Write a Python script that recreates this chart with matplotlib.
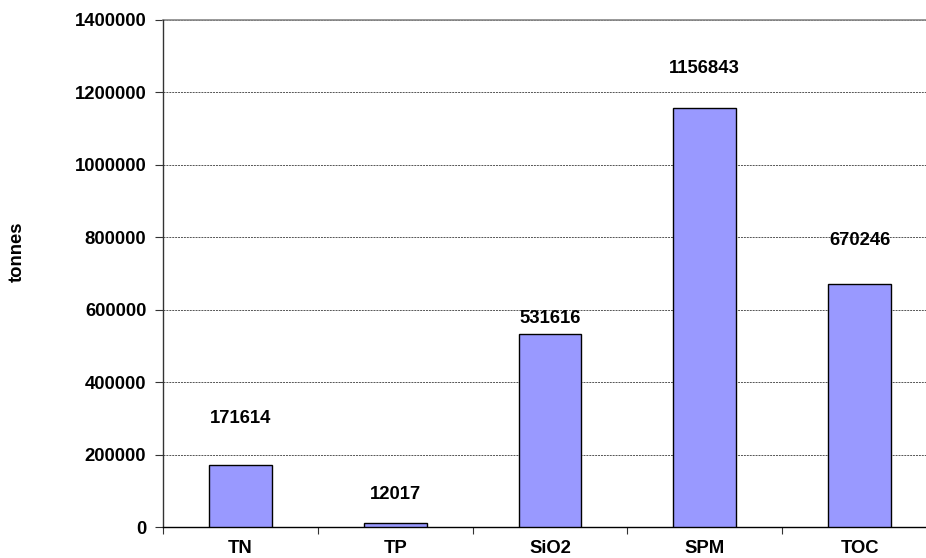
import matplotlib
matplotlib.use("Agg")
import matplotlib.pyplot as plt
import numpy as np

categories = ["TN", "TP", "SiO2", "SPM", "TOC"]
values = [171614, 12017, 531616, 1156843, 670246]
yticks = [0, 200000, 400000, 600000, 800000, 1000000, 1200000, 1400000]
# label offsets above bar tops (pixels) as placed in the original
label_offsets_px = [46, 28, 15.5, 40, 44]

plt.rcParams['font.family'] = ['Liberation Sans', 'DejaVu Sans']
plt.rcParams['font.weight'] = 'bold'

W, H, DPI = 926, 558, 100
fig = plt.figure(figsize=(W / DPI, H / DPI), dpi=DPI)
ax = fig.add_axes([163 / W, (H - 527) / H, (937 - 163) / W, (527 - 20) / H])

x = np.arange(len(categories))
ax.bar(x, values, width=0.406, color='#9999FF', edgecolor='black', linewidth=1.0, zorder=3)

ax.set_xlim(-0.5, len(categories) - 0.5)
ax.set_ylim(0, 1400000)
ax.set_yticks(yticks)
ax.set_yticklabels([str(v) for v in yticks], fontsize=13.3, fontweight='bold')

ax.set_xticks(np.arange(-0.5, len(categories), 1.0))
ax.set_xticklabels([])
ax.set_xticks(x, minor=True)
ax.set_xticklabels(categories, minor=True, fontsize=13.3, fontweight='bold')
ax.tick_params(axis='x', which='minor', length=0, pad=9.5)
ax.tick_params(axis='x', which='major', length=5, width=0.8, direction='out', color='#333333')
ax.tick_params(axis='y', which='major', length=6, width=0.8, direction='out', pad=6, color='#333333')

ax.yaxis.grid(True, linestyle=(0, (2, 1)), color='#555555', linewidth=0.7, zorder=0)
ax.set_axisbelow(True)

for s in ['top', 'right']:
    ax.spines[s].set_visible(False)
ax.spines['left'].set_color('#333333')
ax.spines['left'].set_linewidth(1.0)
ax.spines['bottom'].set_color('black')
ax.spines['bottom'].set_linewidth(1.0)

# top gridline appears solid gray
ax.axhline(1400000, color='#888888', linewidth=1.2, zorder=1, clip_on=False)

for xi, v, off in zip(x, values, label_offsets_px):
    ax.annotate(str(v), xy=(xi, v), xytext=(0, off * 72 / DPI), textcoords='offset points',
                ha='center', va='center', fontsize=13.3, fontweight='bold')

fig.text(17 / W, 1 - 252 / H, "tonnes", rotation=90, ha='center', va='center',
         fontsize=13.3, fontweight='bold')

fig.savefig("out.png", dpi=DPI, facecolor='white')
